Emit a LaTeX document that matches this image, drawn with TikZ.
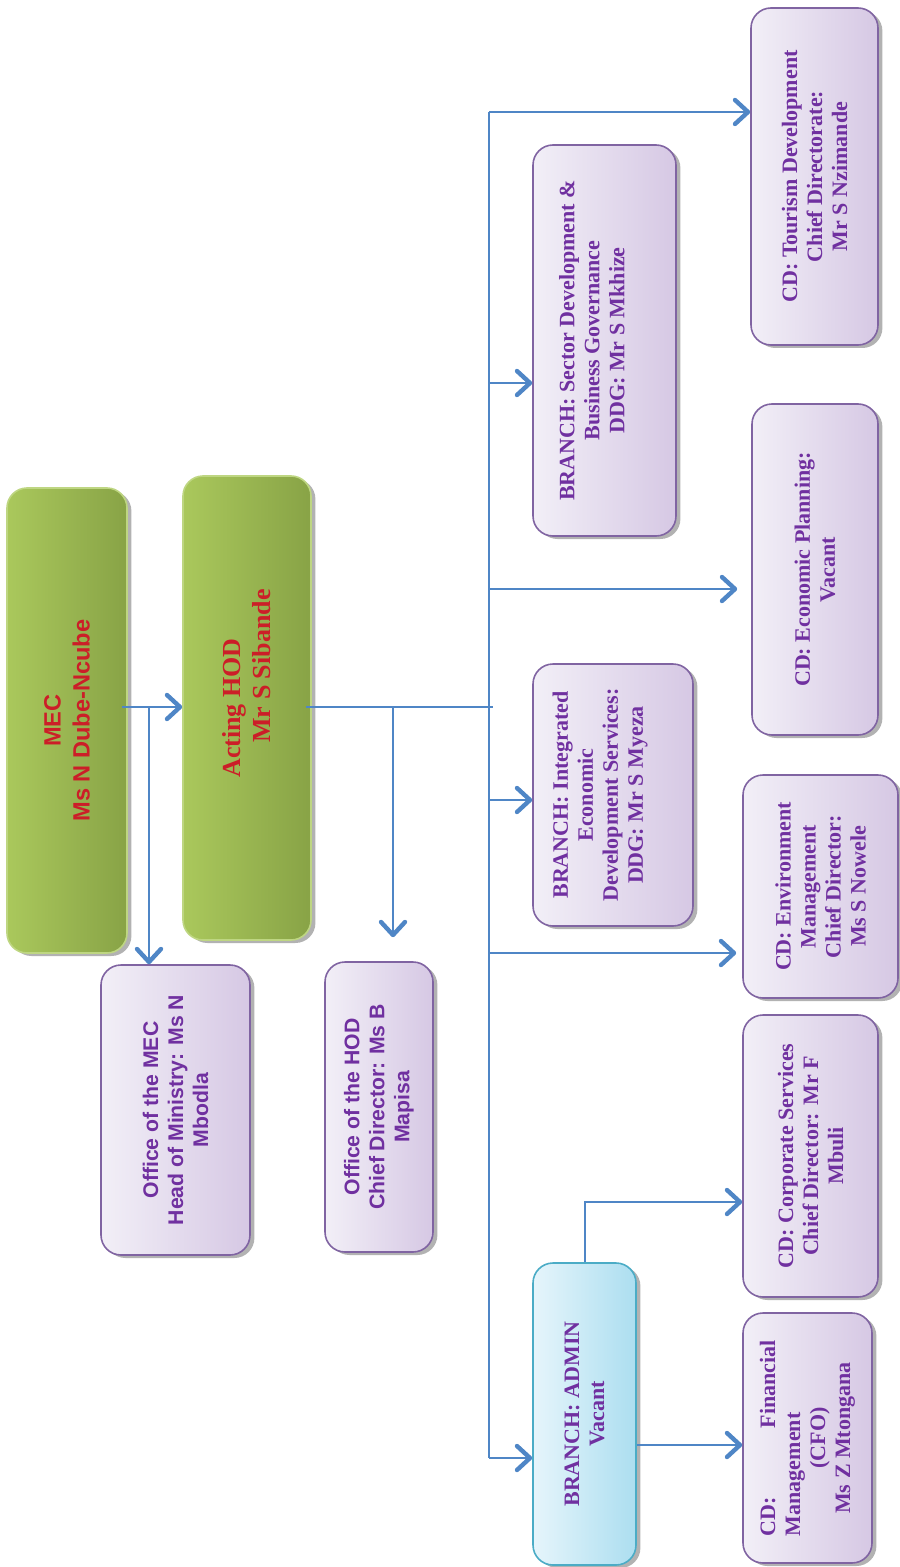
\documentclass[tikz,border=0pt]{standalone}
\usepackage{fontspec}
\setmainfont{Liberation Serif}
\newfontfamily\arialf{Liberation Sans}
\usetikzlibrary{arrows.meta,shadows}
\definecolor{lnk}{RGB}{79,134,198}
\definecolor{grL}{RGB}{170,200,92}
\definecolor{grR}{RGB}{136,163,70}
\definecolor{grB}{RGB}{190,214,130}
\definecolor{puL}{RGB}{242,239,247}
\definecolor{puR}{RGB}{214,200,228}
\definecolor{puB}{RGB}{128,100,162}
\definecolor{puT}{RGB}{112,48,160}
\definecolor{blL}{RGB}{230,245,251}
\definecolor{blR}{RGB}{172,222,240}
\definecolor{blB}{RGB}{75,172,198}
\definecolor{redT}{RGB}{204,30,40}
\begin{document}
\begin{tikzpicture}[x=0.5pt,y=-0.5pt,
  box/.style={rounded corners=10pt, line width=0.8pt, rotate=90, align=center, inner sep=0pt,
    drop shadow={shadow xshift=2.2pt, shadow yshift=-1.5pt, fill=black, opacity=0.3}},
  greenbox/.style={box, draw=grB, left color=grL, right color=grR, text=redT},
  purplebox/.style={box, draw=puB, left color=puL, right color=puR, text=puT},
  bluebox/.style={box, draw=blB, left color=blL, right color=blR, text=puT},
  sansT/.style={font=\arialf\bfseries\fontsize{10.6}{12.5}\selectfont},
  serT/.style={font=\bfseries\fontsize{11}{12.5}\selectfont},
  plaintext/.style={rotate=90, align=center, inner sep=0pt, text=puT},
  conn/.style={draw=lnk, line width=1.3pt},
  arr/.style={conn, -{Straight Barb[length=6.5pt,width=12pt,line width=2.2pt,round]}}]
\useasboundingbox (0,0) rectangle (899,1567);

% top level
\node[greenbox, minimum width=232.5pt, minimum height=60pt,
  font=\arialf\bfseries\fontsize{11.8}{14.5}\selectfont] (mec) at (67,720.5)
  {MEC\\Ms N Dube-Ncube};
\node[greenbox, minimum width=232pt, minimum height=64pt,
  font=\bfseries\fontsize{13}{15}\selectfont] (hod) at (247,708)
  {Acting HOD\\\hspace*{42pt}Mr S Sibande};

% offices
\node[purplebox, sansT, minimum width=145pt, minimum height=74.5pt] (omec) at (175.5,1110)
  {Office of the MEC\\Head of Ministry: Ms N\\Mbodla};
\node[purplebox, sansT, minimum width=145pt, minimum height=54pt] (ohod) at (379,1107)
  {Office of the HOD\\Chief Director: Ms B\\Mapisa};

% branches
\node[bluebox, serT, minimum width=151pt, minimum height=51.5pt] (admin) at (584.5,1414)
  {BRANCH: ADMIN\\Vacant};
\node[purplebox, minimum width=131pt, minimum height=80pt] (ieds) at (613,795) {};
\node[plaintext, serT] (iedsT) at (600,795)
  {BRANCH: Integrated\\Economic\\Development Services:\\DDG: Mr S Myeza};
\node[purplebox, minimum width=195.5pt, minimum height=71.5pt] (sect) at (604.5,340.5) {};
\node[plaintext, serT] (sectT) at (592,340.5)
  {BRANCH: Sector Development \&\\Business Governance\\DDG: Mr S Mkhize};

% chief directorates
\node[purplebox, serT, minimum width=125pt, minimum height=64.5pt] (fin) at (807.5,1438)
  {\makebox[98pt]{CD:\hfill Financial}\\\makebox[98pt][l]{Management}\\(CFO)\\Ms Z Mtongana};
\node[purplebox, serT, minimum width=141pt, minimum height=67.5pt] (corp) at (810.5,1156)
  {CD: Corporate Services\\Chief Director: Mr F\\Mbuli};
\node[purplebox, serT, minimum width=111.5pt, minimum height=77.5pt] (env) at (820.5,886.5)
  {CD: Environment\\Management\\Chief Director:\\Ms S Nowele};
\node[purplebox, serT, minimum width=165.5pt, minimum height=63pt] (econ) at (815,569.5)
  {CD: Economic Planning:\\Vacant};
\node[purplebox, serT, minimum width=168.5pt, minimum height=63.5pt] (tour) at (814.5,176.5)
  {CD: Tourism Development\\Chief Directorate:\\Mr S Nzimande};

% junctions
\coordinate (j1) at (149,707);
\coordinate (j2) at (393,707);
\coordinate (hend) at (493,707);
\coordinate (bt) at (489,112);
\coordinate (b2) at (489,383);
\coordinate (b3) at (489,589);
\coordinate (b4) at (489,800);
\coordinate (b5) at (489,953);
\coordinate (bb) at (489,1458);
\coordinate (a1) at (585,1202);
\coordinate (a2) at (700,1445);

% connectors
\draw[arr] ([xshift=-3pt]mec.south |- j1) -- (hod.north |- j1);
\draw[arr] (j1) -- (j1 |- omec.east);
\draw[conn] ([xshift=-3pt]hod.south |- j2) -- (hend);
\draw[arr, shorten >=12pt] (j2) -- (j2 |- ohod.east);
\draw[conn] (bt) -- (bb);
\draw[arr] (bt) -- (bt -| tour.north);
\draw[arr] (b2) -- (b2 -| sect.north);
\draw[arr, shorten >=7pt] (b3) -- (b3 -| econ.north);
\draw[arr] (b4) -- (b4 -| ieds.north);
\draw[arr, shorten >=3pt] (b5) -- (b5 -| env.north);
\draw[arr] (bb) -- (bb -| admin.north);
\draw[arr] (admin.east -| a1) -- (a1) -- (a1 -| corp.north);
\draw[arr] (admin.south |- a2) -- (fin.north |- a2);
\end{tikzpicture}
\end{document}
